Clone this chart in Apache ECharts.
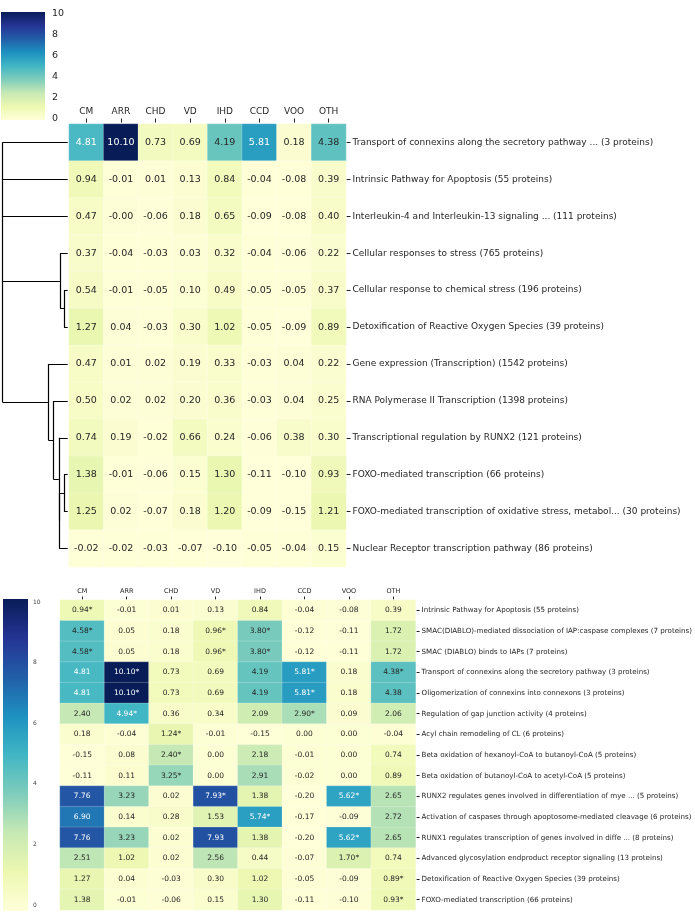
<!DOCTYPE html>
<html><head><meta charset="utf-8">
<script src="https://cdn.jsdelivr.net/npm/echarts@6/dist/echarts.min.js"></script>
<style>html,body{margin:0;padding:0;background:#fff}#c{width:695px;height:922px}</style>
</head><body><div id="c"></div>
<script>
const columns = ['CM','ARR','CHD','VD','IHD','CCD','VOO','OTH'];

const topRows = [
 'Transport of connexins along the secretory pathway ... (3 proteins)',
 'Intrinsic Pathway for Apoptosis (55 proteins)',
 'Interleukin-4 and Interleukin-13 signaling ... (111 proteins)',
 'Cellular responses to stress (765 proteins)',
 'Cellular response to chemical stress (196 proteins)',
 'Detoxification of Reactive Oxygen Species (39 proteins)',
 'Gene expression (Transcription) (1542 proteins)',
 'RNA Polymerase II Transcription (1398 proteins)',
 'Transcriptional regulation by RUNX2 (121 proteins)',
 'FOXO-mediated transcription (66 proteins)',
 'FOXO-mediated transcription of oxidative stress, metabol... (30 proteins)',
 'Nuclear Receptor transcription pathway (86 proteins)'
];
const topValues = [
 [4.81,10.10,0.73,0.69,4.19,5.81,0.18,4.38],
 [0.94,-0.01,0.01,0.13,0.84,-0.04,-0.08,0.39],
 [0.47,-0.004,-0.06,0.18,0.65,-0.09,-0.08,0.40],
 [0.37,-0.04,-0.03,0.03,0.32,-0.04,-0.06,0.22],
 [0.54,-0.01,-0.05,0.10,0.49,-0.05,-0.05,0.37],
 [1.27,0.04,-0.03,0.30,1.02,-0.05,-0.09,0.89],
 [0.47,0.01,0.02,0.19,0.33,-0.03,0.04,0.22],
 [0.50,0.02,0.02,0.20,0.36,-0.03,0.04,0.25],
 [0.74,0.19,-0.02,0.66,0.24,-0.06,0.38,0.30],
 [1.38,-0.01,-0.06,0.15,1.30,-0.11,-0.10,0.93],
 [1.25,0.02,-0.07,0.18,1.20,-0.09,-0.15,1.21],
 [-0.02,-0.02,-0.03,-0.07,-0.10,-0.05,-0.04,0.15]
];

// dendrogram linkage (leaf ids = top row indices; new nodes numbered from 12)
const dendroChildren = [[9,10],[12,11],[8,13],[7,14],[6,15],[4,5],[3,17],[0,1,2,18,16]];
const dendroHeights  = [0.057,0.13,0.135,0.22,0.297,0.057,0.118,1.0];

const bottomRows = [
 'Intrinsic Pathway for Apoptosis (55 proteins)',
 'SMAC(DIABLO)-mediated dissociation of IAP:caspase complexes (7 proteins)',
 'SMAC (DIABLO) binds to IAPs (7 proteins)',
 'Transport of connexins along the secretory pathway (3 proteins)',
 'Oligomerization of connexins into connexons (3 proteins)',
 'Regulation of gap junction activity (4 proteins)',
 'Acyl chain remodeling of CL (6 proteins)',
 'Beta oxidation of hexanoyl-CoA to butanoyl-CoA (5 proteins)',
 'Beta oxidation of butanoyl-CoA to acetyl-CoA (5 proteins)',
 'RUNX2 regulates genes involved in differentiation of mye ... (5 proteins)',
 'Activation of caspases through apoptosome-mediated cleavage (6 proteins)',
 'RUNX1 regulates transcription of genes involved in diffe ... (8 proteins)',
 'Advanced glycosylation endproduct receptor signaling (13 proteins)',
 'Detoxification of Reactive Oxygen Species (39 proteins)',
 'FOXO-mediated transcription (66 proteins)'
];
const bottomValues = [
 [0.94,-0.01,0.01,0.13,0.84,-0.04,-0.08,0.39],
 [4.58,0.05,0.18,0.96,3.80,-0.12,-0.11,1.72],
 [4.58,0.05,0.18,0.96,3.80,-0.12,-0.11,1.72],
 [4.81,10.10,0.73,0.69,4.19,5.81,0.18,4.38],
 [4.81,10.10,0.73,0.69,4.19,5.81,0.18,4.38],
 [2.40,4.94,0.36,0.34,2.09,2.90,0.09,2.06],
 [0.18,-0.04,1.24,-0.01,-0.15,0.00,0.00,-0.04],
 [-0.15,0.08,2.40,0.00,2.18,-0.01,0.00,0.74],
 [-0.11,0.11,3.25,0.00,2.91,-0.02,0.00,0.89],
 [7.76,3.23,0.02,7.93,1.38,-0.20,5.62,2.65],
 [6.90,0.14,0.28,1.53,5.74,-0.17,-0.09,2.72],
 [7.76,3.23,0.02,7.93,1.38,-0.20,5.62,2.65],
 [2.51,1.02,0.02,2.56,0.44,-0.07,1.70,0.74],
 [1.27,0.04,-0.03,0.30,1.02,-0.05,-0.09,0.89],
 [1.38,-0.01,-0.06,0.15,1.30,-0.11,-0.10,0.93]
];
const bottomSig = [
 [1,0,0,0,0,0,0,0],
 [1,0,0,1,1,0,0,0],
 [1,0,0,1,1,0,0,0],
 [0,1,0,0,0,1,0,1],
 [0,1,0,0,0,1,0,0],
 [0,1,0,0,0,1,0,0],
 [0,0,1,0,0,0,0,0],
 [0,0,1,0,0,0,0,0],
 [0,0,1,0,0,0,0,0],
 [0,0,0,1,0,0,1,0],
 [0,0,0,0,1,0,0,0],
 [0,0,0,0,0,0,1,0],
 [0,0,0,0,0,0,1,0],
 [0,0,0,0,0,0,0,1],
 [0,0,0,0,0,0,0,1]
];
const colorTicks = [0,2,4,6,8,10];

const YlGnBu = ['#ffffd9','#edf8b1','#c7e9b4','#7fcdbb','#41b6c4','#1d91c0','#225ea8','#253494','#081d58'];
const FONT = 'DejaVu Sans';
const DARK = '#262626';

function cells(vals, sig){
  const out = [];
  vals.forEach((row, r) => row.forEach((v, c) => {
    out.push({value:[c, r, v], star: sig ? sig[r][c] : 0,
      label:{color: v > 4.7 ? '#ffffff' : DARK}});
  }));
  return out;
}

// dendrogram segments
const nLeaves = topRows.length;
const nodeY = [], nodeH = [];
for (let i = 0; i < nLeaves; i++){ nodeY[i] = i + 0.5; nodeH[i] = 0; }
const dendroSegs = [];
dendroChildren.forEach((ch, k) => {
  const id = nLeaves + k, h = dendroHeights[k];
  const ys = ch.map(c => nodeY[c]);
  ch.forEach(c => dendroSegs.push({coords:[[nodeH[c], nodeY[c]],[h, nodeY[c]]]}));
  dendroSegs.push({coords:[[h, Math.min(...ys)],[h, Math.max(...ys)]]});
  nodeY[id] = ys.reduce((a,b)=>a+b,0)/ys.length; nodeH[id] = h;
});

const topMin = -0.10, topMax = 10.10, botMin = -0.20, botMax = 10.10;

// gradient colorbar drawn through the colorbar axis
function colorbarItem(params, api){
  const a = api.coord([0, api.value(1)]);
  const b = api.coord([1, api.value(0)]);
  const stops = YlGnBu.map((c, i) => ({offset: 1 - i/(YlGnBu.length-1), color:c}));
  stops.reverse();
  return {type:'rect', shape:{x:b[0] < a[0] ? b[0] : a[0], y:a[1], width:Math.abs(b[0]-a[0]), height:b[1]-a[1]},
    style:{fill:new echarts.graphic.LinearGradient(0,0,0,1, stops)}};
}

const chart = echarts.init(document.getElementById('c'), null, {renderer:'canvas'});
const hidden = {show:false};
chart.setOption({
  animation:false,
  textStyle:{fontFamily:FONT},
  grid:[
    {left:69, top:124, width:277, height:443},
    {left:60, top:600, width:356, height:310},
    {left:2.3, top:124, width:65.4, height:443},
    {left:1, top:12, width:44, height:108},
    {left:3, top:599, width:25, height:312}
  ],
  xAxis:[
    {gridIndex:0, type:'category', data:columns, position:'top', offset:1.5,
     axisLine:{show:false}, axisTick:{show:true, length:4, alignWithLabel:true, lineStyle:{color:'#222'}},
     axisLabel:{fontSize:9, color:DARK, margin:6, fontFamily:FONT}, splitLine:hidden},
    {gridIndex:1, type:'category', data:columns, position:'top', offset:0.5,
     axisLine:{show:false}, axisTick:{show:true, length:3, alignWithLabel:true, lineStyle:{color:'#222'}},
     axisLabel:{fontSize:6.5, color:DARK, margin:5, fontFamily:FONT}, splitLine:hidden},
    {gridIndex:2, type:'value', min:0, max:1, inverse:true, show:false},
    {gridIndex:3, type:'value', min:0, max:1, show:false},
    {gridIndex:4, type:'value', min:0, max:1, show:false}
  ],
  yAxis:[
    {gridIndex:0, type:'category', data:topRows, inverse:true, position:'right', offset:0.5,
     axisLine:{show:false}, axisTick:{show:true, length:4, alignWithLabel:true, lineStyle:{color:'#222'}},
     axisLabel:{fontSize:9, color:DARK, margin:6, fontFamily:FONT}, splitLine:hidden},
    {gridIndex:1, type:'category', data:bottomRows, inverse:true, position:'right', offset:1,
     axisLine:{show:false}, axisTick:{show:true, length:3, alignWithLabel:true, lineStyle:{color:'#222'}},
     axisLabel:{fontSize:7.1, color:DARK, margin:5, fontFamily:FONT}, splitLine:hidden},
    {gridIndex:2, type:'value', min:0, max:nLeaves, inverse:true, show:false},
    {gridIndex:3, type:'value', min:topMin, max:topMax, position:'right',
     axisLine:{show:false}, splitLine:hidden,
     axisTick:{show:true, length:4, customValues:colorTicks, lineStyle:{color:'#222'}},
     axisLabel:{fontSize:9.5, color:DARK, margin:7, customValues:colorTicks, fontFamily:FONT}},
    {gridIndex:4, type:'value', min:botMin, max:botMax, position:'right',
     axisLine:{show:false}, splitLine:hidden,
     axisTick:{show:true, length:3, customValues:colorTicks, lineStyle:{color:'#222'}},
     axisLabel:{fontSize:6, color:'#444', margin:5, customValues:colorTicks, fontFamily:FONT}}
  ],
  visualMap:[
    {type:'continuous', show:false, seriesIndex:0, dimension:2, min:topMin, max:topMax, inRange:{color:YlGnBu}},
    {type:'continuous', show:false, seriesIndex:1, dimension:2, min:botMin, max:botMax, inRange:{color:YlGnBu}}
  ],
  series:[
    {type:'heatmap', xAxisIndex:0, yAxisIndex:0, data:cells(topValues),
     itemStyle:{borderColor:'rgba(255,255,255,0.35)', borderWidth:0.6},
     label:{show:true, fontSize:9.5, fontFamily:FONT,
       formatter:p => p.value[2].toFixed(2)}},
    {type:'heatmap', xAxisIndex:1, yAxisIndex:1, data:cells(bottomValues, bottomSig),
     itemStyle:{borderColor:'rgba(255,255,255,0.35)', borderWidth:0.6},
     label:{show:true, fontSize:7.5, fontFamily:FONT,
       formatter:p => p.value[2].toFixed(2) + (p.data.star ? '*' : '')}},
    {type:'lines', coordinateSystem:'cartesian2d', xAxisIndex:2, yAxisIndex:2,
     data:dendroSegs, lineStyle:{color:'#000', width:1.2, opacity:1}, silent:true},
    {type:'custom', xAxisIndex:3, yAxisIndex:3, silent:true, renderItem:colorbarItem,
     data:[[topMin, topMax]]},
    {type:'custom', xAxisIndex:4, yAxisIndex:4, silent:true, renderItem:colorbarItem,
     data:[[botMin, botMax]]}
  ]
});
</script></body></html>
